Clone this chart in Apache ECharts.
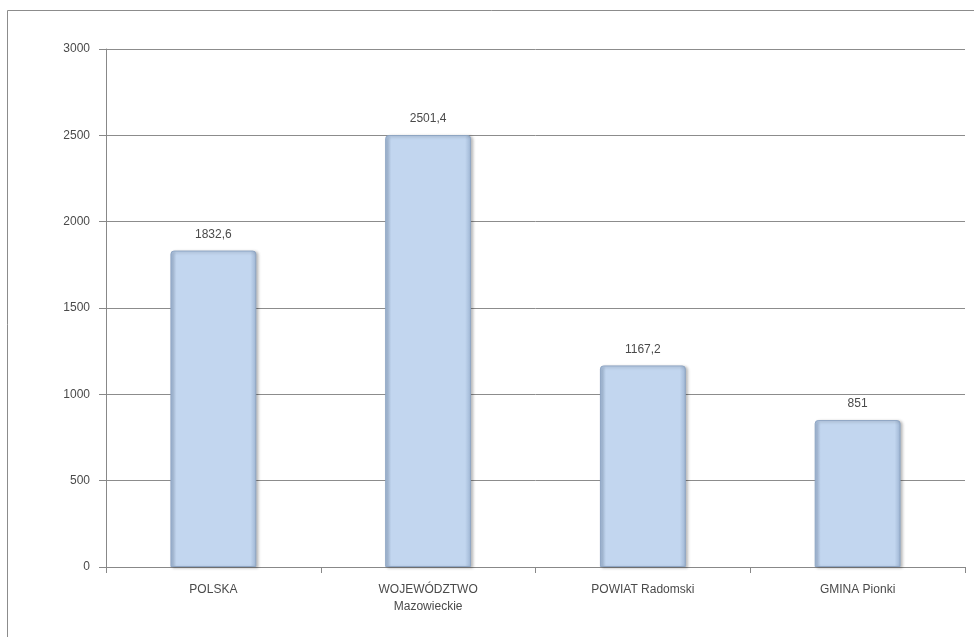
<!DOCTYPE html>
<html>
<head>
<meta charset="utf-8">
<script src="https://cdn.jsdelivr.net/npm/echarts@6/dist/echarts.min.js"></script>
<style>
  html, body { margin: 0; padding: 0; background: #fff; }
  #chart { width: 974px; height: 637px; }
</style>
</head>
<body>
<div id="chart"></div>
<script>
var kategorie = ['POLSKA', 'WOJEWÓDZTWO\nMazowieckie', 'POWIAT Radomski', 'GMINA Pionki'];
var wartosci = [1832.6, 2501.4, 1167.2, 851];

var chart = echarts.init(document.getElementById('chart'));

var barFill = new echarts.graphic.LinearGradient(0, 0, 1, 0, [
    { offset: 0, color: '#9db4d2' },
    { offset: 0.07, color: '#c2d6ef' },
    { offset: 0.93, color: '#c2d6ef' },
    { offset: 1, color: '#9db4d2' }
]);

var option = {
    animation: false,
    backgroundColor: '#fff',
    textStyle: { fontFamily: 'Liberation Sans', color: '#4a4a4a' },
    graphic: [
        {
            type: 'rect',
            shape: { x: 7.5, y: 10.5, width: 1000, height: 700 },
            style: { fill: 'none', stroke: '#8c8c8c', lineWidth: 1 },
            silent: true
        }
    ],
    grid: { left: 106, right: 9, top: 49, bottom: 70 },
    xAxis: {
        type: 'category',
        data: kategorie,
        axisLine: { lineStyle: { color: '#888', width: 1 } },
        axisTick: { show: true, alignWithLabel: false, length: 6, lineStyle: { color: '#888' } },
        axisLabel: { color: '#4a4a4a', fontSize: 12, margin: 14, lineHeight: 17 }
    },
    yAxis: {
        type: 'value',
        min: 0,
        max: 3000,
        interval: 500,
        axisLine: { show: true, lineStyle: { color: '#888', width: 1 } },
        axisTick: { show: true, length: 7, lineStyle: { color: '#888' } },
        axisLabel: {
            color: '#4a4a4a',
            fontSize: 12,
            margin: 16,
            formatter: function (v) { return String(v); }
        },
        splitLine: { lineStyle: { color: '#8c8c8c', width: 1 } }
    },
    series: [
        {
            type: 'bar',
            data: wartosci,
            barWidth: '40%',
            itemStyle: {
                color: barFill,
                borderColor: '#8fa6c4',
                borderWidth: 1,
                borderRadius: [3, 3, 0, 0],
                shadowColor: 'rgba(0,0,0,0.25)',
                shadowBlur: 3,
                shadowOffsetX: 2,
                shadowOffsetY: 1
            },
            label: {
                show: true,
                position: 'top',
                distance: 10,
                fontSize: 12,
                color: '#4a4a4a',
                formatter: function (p) {
                    return String(p.value).replace('.', ',');
                }
            }
        }
    ]
};
chart.setOption(option);
</script>
</body>
</html>
